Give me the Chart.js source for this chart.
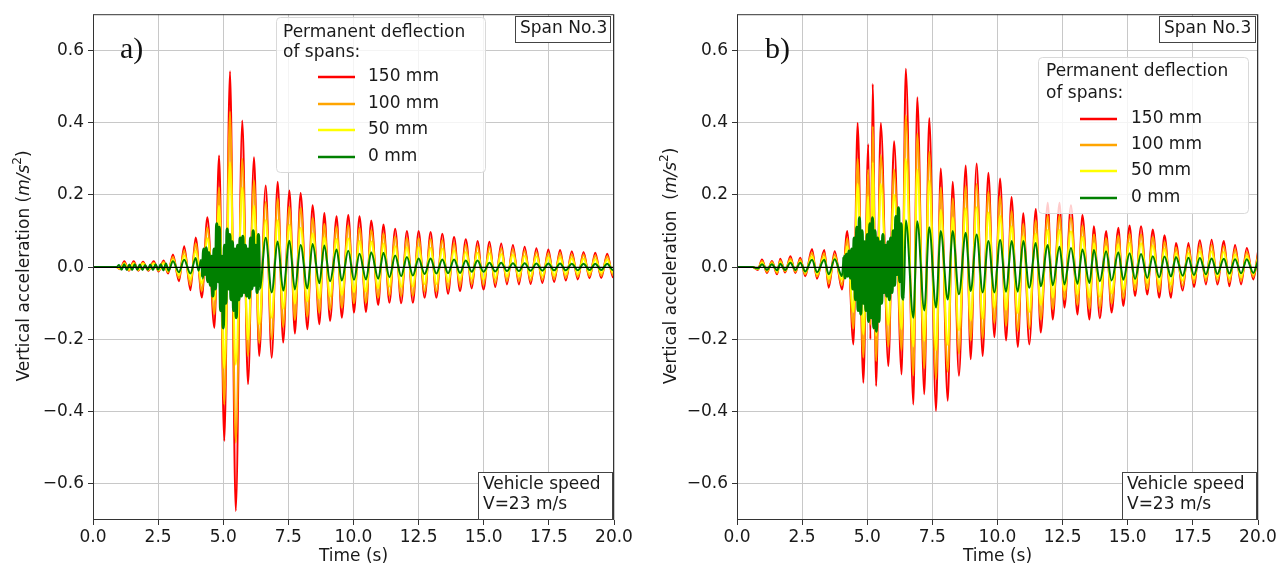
<!DOCTYPE html>
<html>
<head>
<meta charset="utf-8">
<script src="https://cdn.jsdelivr.net/npm/chart.js@4.4.1/dist/chart.umd.min.js"></script>
<style>
html, body { margin: 0; padding: 0; background: #fff; overflow: hidden; }
#wrapA { position: absolute; left: 0; top: 0; width: 640px; height: 569px; }
#wrapB { position: absolute; left: 640px; top: 0; width: 647px; height: 569px; }
</style>
</head>
<body>
<div id="wrapA"><canvas id="chartA" width="640" height="569"></canvas></div>
<div id="wrapB"><canvas id="chartB" width="647" height="569"></canvas></div>
<script>
var seriesNames = ['150 mm', '100 mm', '50 mm', '0 mm'];
var seriesColors = ['#ff0000', '#ffa500', '#ffff00', '#008000'];
var xTicks = [0, 2.5, 5, 7.5, 10, 12.5, 15, 17.5, 20];
var yTicks = [-0.6, -0.4, -0.2, 0, 0.2, 0.4, 0.6];

// ---- panel a) : times of the read peaks / troughs (s) ----
var timesA = [0, 0.9, 1.05, 1.2, 1.38, 1.56, 1.74, 1.92, 2.12, 2.33,
  2.52, 2.71, 2.88, 3.07, 3.30, 3.50, 3.74, 3.94, 4.18, 4.39,
  4.66, 4.84, 5.04, 5.26, 5.48, 5.73, 5.95, 6.18, 6.38, 6.63,
  6.86, 7.09, 7.30, 7.54, 7.75, 7.97, 8.23, 8.43, 8.69, 8.88,
  9.10, 9.35, 9.55, 9.80, 10.02, 10.23, 10.48, 10.68, 10.95, 11.15,
  11.38, 11.60, 11.83, 12.05, 12.28, 12.50, 12.73, 12.96, 13.18, 13.41,
  13.63, 13.86, 14.09, 14.31, 14.54, 14.76, 14.99, 15.22, 15.44, 15.67,
  15.89, 16.12, 16.35, 16.57, 16.80, 17.02, 17.25, 17.48, 17.70, 17.93,
  18.15, 18.38, 18.61, 18.83, 19.06, 19.28, 19.51, 19.74, 19.96, 20.0];

var red150A = [0, 0, -0.006, 0.016, -0.01, 0.016, -0.01, 0.015, -0.01, 0.016,
  -0.012, 0.018, -0.018, 0.035, -0.039, 0.058, -0.064, 0.082, -0.084, 0.138,
  -0.168, 0.309, -0.481, 0.542, -0.675, 0.406, -0.324, 0.304, -0.246, 0.226,
  -0.251, 0.236, -0.209, 0.212, -0.184, 0.205, -0.172, 0.171, -0.158, 0.150,
  -0.149, 0.141, -0.140, 0.144, -0.126, 0.141, -0.124, 0.129, -0.105, 0.118,
  -0.099, 0.106, -0.100, 0.100, -0.099, 0.100, -0.085, 0.097, -0.085, 0.092,
  -0.074, 0.083, -0.066, 0.077, -0.059, 0.072, -0.062, 0.070, -0.055, 0.065,
  -0.048, 0.061, -0.048, 0.056, -0.047, 0.052, -0.044, 0.049, -0.041, 0.047,
  -0.037, 0.044, -0.034, 0.042, -0.031, 0.040, -0.030, 0.037, -0.028, -0.026];

var orange100A = [0, 0, -0.005, 0.012, -0.008, 0.012, -0.008, 0.012, -0.008, 0.012,
  -0.01, 0.014, -0.014, 0.028, -0.031, 0.046, -0.05, 0.065, -0.066, 0.11,
  -0.13, 0.22, -0.38, 0.43, -0.486, 0.30, -0.246, 0.24, -0.21, 0.18,
  -0.20, 0.19, -0.166, 0.168, -0.146, 0.164, -0.137, 0.136, -0.126, 0.12,
  -0.119, 0.113, -0.112, 0.115, -0.1, 0.109, -0.099, 0.103, -0.084, 0.094,
  -0.079, 0.085, -0.08, 0.08, -0.079, 0.08, -0.068, 0.078, -0.068, 0.074,
  -0.059, 0.066, -0.053, 0.062, -0.047, 0.058, -0.05, 0.056, -0.044, 0.052,
  -0.038, 0.049, -0.038, 0.045, -0.038, 0.042, -0.035, 0.039, -0.033, 0.038,
  -0.03, 0.035, -0.027, 0.034, -0.025, 0.032, -0.024, 0.03, -0.022, -0.021];

var yellow50A = [0, 0, -0.004, 0.009, -0.007, 0.009, -0.007, 0.009, -0.007, 0.009,
  -0.008, 0.01, -0.01, 0.02, -0.022, 0.032, -0.035, 0.045, -0.046, 0.08,
  -0.09, 0.17, -0.28, 0.29, -0.27, 0.22, -0.2, 0.17, -0.158, 0.13,
  -0.14, 0.13, -0.115, 0.117, -0.101, 0.109, -0.095, 0.094, -0.087, 0.083,
  -0.082, 0.078, -0.077, 0.079, -0.069, 0.072, -0.068, 0.071, -0.058, 0.065,
  -0.054, 0.058, -0.055, 0.055, -0.054, 0.055, -0.047, 0.053, -0.047, 0.051,
  -0.041, 0.046, -0.036, 0.042, -0.032, 0.04, -0.034, 0.038, -0.03, 0.036,
  -0.026, 0.034, -0.026, 0.031, -0.026, 0.029, -0.024, 0.027, -0.023, 0.026,
  -0.02, 0.024, -0.019, 0.023, -0.017, 0.022, -0.016, 0.02, -0.015, -0.014];

// green (0 mm) has its own sampling: noisy burst between 4.2 and 6.4 s
var greenTimesA = [0, 0.9, 1.0, 1.1, 1.2, 1.3, 1.4, 1.5, 1.6, 1.7,
  1.8, 1.9, 2.0, 2.1, 2.2, 2.3, 2.4, 2.5, 2.6, 2.7,
  2.8, 2.9, 3.07, 3.30, 3.50, 3.74, 3.94, 4.05, 4.15,
  4.20, 4.25, 4.30, 4.35, 4.40, 4.45, 4.50, 4.55, 4.60, 4.65,
  4.70, 4.75, 4.80, 4.85, 4.90, 4.95, 5.00, 5.05, 5.10, 5.15,
  5.20, 5.25, 5.30, 5.35, 5.40, 5.45, 5.50, 5.55, 5.60, 5.65,
  5.70, 5.75, 5.80, 5.85, 5.90, 5.95, 6.00, 6.05, 6.10, 6.15,
  6.20, 6.25, 6.30, 6.35, 6.40,
  6.63, 6.86, 7.09, 7.30, 7.54, 7.75, 7.97, 8.23, 8.43, 8.69,
  8.88, 9.10, 9.35, 9.55, 9.80, 10.02, 10.23, 10.48, 10.68, 10.95,
  11.15, 11.38, 11.60, 11.83, 12.05, 12.28, 12.50, 12.73, 12.96, 13.18,
  13.41, 13.63, 13.86, 14.09, 14.31, 14.54, 14.76, 14.99, 15.22, 15.44,
  15.67, 15.89, 16.12, 16.35, 16.57, 16.80, 17.02, 17.25, 17.48, 17.70,
  17.93, 18.15, 18.38, 18.61, 18.83, 19.06, 19.28, 19.51, 19.74, 19.96,
  20.0];

var green0A = [0, 0, 0.006, -0.007, 0.008, -0.008, 0.007, -0.008, 0.008, -0.007,
  0.007, -0.008, 0.006, -0.007, 0.007, -0.008, 0.008, -0.007, 0.008, -0.009,
  0.01, -0.01, 0.016, -0.014, 0.02, -0.018, 0.025, -0.01, 0.02,
  -0.03, 0.05, -0.02, 0.053, -0.04, 0.04, -0.05, 0.03, -0.08, 0.05,
  -0.06, 0.12, -0.04, 0.11, -0.12, 0.03, -0.168, 0.06, -0.1, 0.105,
  -0.06, 0.09, -0.09, 0.07, -0.12, 0.05, -0.14, 0.06, -0.09, 0.08,
  -0.08, 0.085, -0.07, 0.06, -0.08, 0.05, -0.085, 0.08, -0.06, 0.1,
  -0.05, 0.06, -0.07, 0.09, -0.06,
  0.081, -0.07, 0.071, -0.065, 0.073, -0.062, 0.061, -0.059, 0.064, -0.045,
  0.06, -0.039, 0.049, -0.037, 0.045, -0.035, 0.037, -0.034, 0.041, -0.032,
  0.04, -0.028, 0.032, -0.025, 0.028, -0.023, 0.024, -0.019, 0.024, -0.018,
  0.021, -0.017, 0.021, -0.016, 0.018, -0.013, 0.018, -0.013, 0.012, -0.012,
  0.012, -0.011, 0.011, -0.011, 0.011, -0.01, 0.01, -0.01, 0.01, -0.009,
  0.01, -0.009, 0.009, -0.009, 0.009, -0.008, 0.009, -0.008, 0.009, -0.008,
  -0.007];

// ---- panel b) ----
var timesB = [0, 0.6, 0.8, 0.96, 1.15, 1.34, 1.54, 1.66, 1.85, 2.05,
  2.24, 2.43, 2.62, 2.88, 3.07, 3.35, 3.52, 3.75, 4.03, 4.23,
  4.47, 4.63, 4.85, 5.04, 5.12, 5.21, 5.34, 5.52, 5.81, 6.03,
  6.32, 6.48, 6.77, 6.92, 7.19, 7.38, 7.64, 7.82, 8.09, 8.28,
  8.52, 8.78, 8.97, 9.20, 9.43, 9.65, 9.88, 10.10, 10.33, 10.54,
  10.78, 10.99, 11.22, 11.47, 11.66, 11.93, 12.12, 12.38, 12.57, 12.82,
  13.07, 13.26, 13.53, 13.70, 13.93, 14.17, 14.38, 14.64, 14.83, 15.07,
  15.28, 15.51, 15.75, 15.96, 16.21, 16.41, 16.66, 16.85, 17.11, 17.33,
  17.54, 17.77, 18.00, 18.22, 18.44, 18.69, 18.90, 19.12, 19.35, 19.57,
  19.82, 20.0];

var red150B = [0, 0, -0.008, 0.021, -0.016, 0.017, -0.02, 0.023, -0.015, 0.03,
  -0.016, 0.026, -0.025, 0.05, -0.032, 0.047, -0.057, 0.044, -0.062, 0.10,
  -0.214, 0.399, -0.32, 0.34, -0.2, 0.507, -0.329, 0.399, -0.274, 0.348,
  -0.297, 0.549, -0.38, 0.47, -0.352, 0.413, -0.398, 0.273, -0.37, 0.236,
  -0.301, 0.281, -0.255, 0.287, -0.246, 0.261, -0.194, 0.245, -0.203, 0.194,
  -0.221, 0.149, -0.214, 0.161, -0.181, 0.178, -0.145, 0.178, -0.112, 0.171,
  -0.131, 0.144, -0.145, 0.113, -0.142, 0.10, -0.126, 0.109, -0.108, 0.115,
  -0.080, 0.113, -0.076, 0.104, -0.085, 0.088, -0.085, 0.067, -0.065, 0.067,
  -0.055, 0.074, -0.048, 0.076, -0.048, 0.072, -0.053, 0.061, -0.048, 0.053,
  -0.034, 0.042];

var orange100B = [0, 0, -0.006, 0.017, -0.013, 0.014, -0.016, 0.018, -0.012, 0.024,
  -0.013, 0.021, -0.02, 0.04, -0.026, 0.038, -0.046, 0.035, -0.05, 0.08,
  -0.17, 0.30, -0.25, 0.27, -0.16, 0.39, -0.26, 0.31, -0.22, 0.27,
  -0.23, 0.42, -0.30, 0.37, -0.28, 0.32, -0.31, 0.22, -0.29, 0.19,
  -0.24, 0.225, -0.204, 0.23, -0.197, 0.209, -0.155, 0.196, -0.162, 0.155,
  -0.177, 0.119, -0.171, 0.129, -0.145, 0.142, -0.116, 0.142, -0.09, 0.137,
  -0.105, 0.115, -0.116, 0.09, -0.114, 0.08, -0.101, 0.087, -0.086, 0.092,
  -0.064, 0.09, -0.061, 0.083, -0.068, 0.07, -0.068, 0.054, -0.052, 0.054,
  -0.044, 0.059, -0.038, 0.061, -0.038, 0.058, -0.042, 0.049, -0.038, 0.042,
  -0.027, 0.034];

var yellow50B = [0, 0, -0.005, 0.012, -0.009, 0.01, -0.012, 0.013, -0.009, 0.017,
  -0.009, 0.015, -0.015, 0.029, -0.019, 0.027, -0.033, 0.026, -0.036, 0.058,
  -0.124, 0.23, -0.186, 0.197, -0.116, 0.29, -0.19, 0.23, -0.16, 0.2,
  -0.172, 0.3, -0.22, 0.27, -0.204, 0.24, -0.23, 0.158, -0.215, 0.137,
  -0.175, 0.163, -0.148, 0.166, -0.143, 0.151, -0.113, 0.142, -0.118, 0.113,
  -0.128, 0.086, -0.124, 0.093, -0.105, 0.103, -0.084, 0.103, -0.065, 0.099,
  -0.076, 0.084, -0.084, 0.066, -0.082, 0.058, -0.073, 0.063, -0.063, 0.067,
  -0.046, 0.066, -0.044, 0.06, -0.049, 0.051, -0.049, 0.039, -0.038, 0.039,
  -0.032, 0.043, -0.028, 0.044, -0.028, 0.042, -0.031, 0.035, -0.028, 0.031,
  -0.02, 0.024];

var greenTimesB = [0, 0.6, 0.8, 0.96, 1.15, 1.34, 1.54, 1.66, 1.85, 2.05,
  2.24, 2.43, 2.62, 2.88, 3.07, 3.35, 3.52, 3.75, 4.03,
  4.10, 4.15, 4.20, 4.25, 4.30, 4.35, 4.40, 4.45, 4.50, 4.55,
  4.60, 4.65, 4.70, 4.75, 4.80, 4.85, 4.90, 4.95, 5.00, 5.05,
  5.10, 5.15, 5.20, 5.25, 5.30, 5.35, 5.40, 5.45, 5.50, 5.55,
  5.60, 5.65, 5.70, 5.75, 5.80, 5.85, 5.90, 5.95, 6.00, 6.05,
  6.10, 6.15, 6.20, 6.25, 6.30, 6.35, 6.40,
  6.48, 6.77, 6.92, 7.19, 7.38, 7.64, 7.82, 8.09, 8.28, 8.52,
  8.78, 8.97, 9.20, 9.43, 9.65, 9.88, 10.10, 10.33, 10.54, 10.78,
  10.99, 11.22, 11.47, 11.66, 11.93, 12.12, 12.38, 12.57, 12.82, 13.07,
  13.26, 13.53, 13.70, 13.93, 14.17, 14.38, 14.64, 14.83, 15.07, 15.28,
  15.51, 15.75, 15.96, 16.21, 16.41, 16.66, 16.85, 17.11, 17.33, 17.54,
  17.77, 18.00, 18.22, 18.44, 18.69, 18.90, 19.12, 19.35, 19.57, 19.82,
  20.0];

var green0B = [0, 0, -0.004, 0.008, -0.008, 0.008, -0.009, 0.009, -0.008, 0.012,
  -0.008, 0.012, -0.012, 0.02, -0.014, 0.02, -0.02, 0.022, -0.025,
  0.03, -0.03, 0.035, -0.025, 0.044, -0.03, 0.05, -0.06, 0.08, -0.09,
  0.11, -0.12, 0.136, -0.13, 0.1, -0.1, 0.07, -0.12, 0.09, -0.15,
  0.12, -0.14, 0.136, -0.168, 0.1, -0.177, 0.08, -0.15, 0.07, -0.1,
  0.09, -0.07, 0.06, -0.08, 0.07, -0.09, 0.08, -0.07, 0.1, -0.05,
  0.14, -0.02, 0.164, -0.04, 0.12, -0.08, -0.089,
  0.13, -0.14, 0.127, -0.12, 0.11, -0.112, 0.10, -0.09, 0.10, -0.075,
  0.095, -0.066, 0.09, -0.07, 0.072, -0.07, 0.075, -0.068, 0.072, -0.068,
  0.072, -0.057, 0.067, -0.053, 0.061, -0.05, 0.056, -0.048, 0.053, -0.046,
  0.049, -0.044, 0.047, -0.039, 0.044, -0.037, 0.041, -0.035, 0.038, -0.033,
  0.036, -0.03, 0.03, -0.028, 0.029, -0.026, 0.028, -0.024, 0.026, -0.022,
  0.025, -0.02, 0.024, -0.019, 0.023, -0.018, 0.022, -0.017, 0.022, -0.016,
  0.018];

var FONT = '17px "DejaVu Sans"';
var TEXT = '#1a1a1a';
Chart.defaults.font.family = 'DejaVu Sans';
Chart.defaults.color = TEXT;

function pts(ts, vs) {
  if (ts.length != vs.length) console.log('length mismatch', ts.length, vs.length);
  var out = [];
  for (var i = 0; i < ts.length; i++) {
    out.push({x: ts[i], y: vs[i]});
  }
  return out;
}

function fmt(v) {
  var s = Math.abs(v).toFixed(1);
  return v < -1e-9 ? '\u2212' + s : s;
}

function boxText(ctx, b) {
  ctx.fillStyle = '#fff';
  ctx.fillRect(b.x, b.y, b.w, b.h);
  ctx.strokeStyle = '#444';
  ctx.lineWidth = 1;
  ctx.strokeRect(b.x + 0.5, b.y + 0.5, b.w, b.h);
  ctx.fillStyle = TEXT;
  ctx.font = FONT;
  ctx.textAlign = 'left';
  ctx.textBaseline = 'middle';
  for (var i = 0; i < b.lines.length; i++) {
    ctx.fillText(b.lines[i], b.tx, b.ty[i]);
  }
}

function drawLegend(ctx, L) {
  ctx.beginPath();
  ctx.roundRect(L.x + 0.5, L.y + 0.5, L.w, L.h, 4);
  ctx.fillStyle = 'rgba(255,255,255,0.8)';
  ctx.fill();
  ctx.strokeStyle = '#d9d9d9';
  ctx.lineWidth = 1;
  ctx.stroke();
  ctx.font = FONT;
  ctx.fillStyle = TEXT;
  ctx.textAlign = 'left';
  ctx.textBaseline = 'middle';
  ctx.fillText('Permanent deflection', L.tx, L.ty[0]);
  ctx.fillText('of spans:', L.tx, L.ty[1]);
  for (var i = 0; i < seriesNames.length; i++) {
    ctx.strokeStyle = seriesColors[i];
    ctx.lineWidth = 2.5;
    ctx.beginPath();
    ctx.moveTo(L.lx0, L.ey[i]);
    ctx.lineTo(L.lx1, L.ey[i]);
    ctx.stroke();
    ctx.fillStyle = TEXT;
    ctx.fillText(seriesNames[i], L.ex, L.ey[i]);
  }
}

function drawYTitle(ctx, cx, cy, gap) {
  var parts = [
    {t: 'Vertical acceleration' + gap + '(', f: FONT, dy: 0},
    {t: 'm/s', f: 'italic 17px "DejaVu Sans"', dy: 0},
    {t: '2', f: '12px "DejaVu Sans"', dy: -7},
    {t: ')', f: FONT, dy: 0}
  ];
  var total = 0;
  for (var i = 0; i < parts.length; i++) {
    ctx.font = parts[i].f;
    parts[i].w = ctx.measureText(parts[i].t).width;
    total += parts[i].w;
  }
  ctx.save();
  ctx.translate(cx, cy);
  ctx.rotate(-Math.PI / 2);
  ctx.fillStyle = TEXT;
  ctx.textAlign = 'left';
  ctx.textBaseline = 'middle';
  var x = -total / 2;
  for (var j = 0; j < parts.length; j++) {
    ctx.font = parts[j].f;
    ctx.fillText(parts[j].t, x, parts[j].dy);
    x += parts[j].w;
  }
  ctx.restore();
}

function makeChart(id, p) {
  var datasets = [];
  for (var i = 0; i < 4; i++) {
    var ds = {
      label: seriesNames[i],
      data: pts(p.times[i], p.values[i]),
      borderColor: seriesColors[i],
      borderWidth: 2,
      pointRadius: 0,
      fill: false,
      cubicInterpolationMode: 'monotone',
      order: 4 - i
    };
    if (i == 3) {
      // the noisy burst of the 0 mm trace reads as a filled band
      ds.segment = {
        borderWidth: function(c) {
          return (c.p0.parsed.x >= p.burst[0] && c.p1.parsed.x <= p.burst[1]) ? 3.2 : 2;
        }
      };
    }
    datasets.push(ds);
  }

  var decor = {
    id: 'decor',
    afterDatasetsDraw: function(chart) {
      var ctx = chart.ctx, a = chart.chartArea;
      var y0 = Math.round(chart.scales.y.getPixelForValue(0));
      ctx.save();
      ctx.strokeStyle = '#000';
      ctx.lineWidth = 1.3;
      ctx.beginPath();
      ctx.moveTo(a.left, y0 + 0.3);
      ctx.lineTo(a.right, y0 + 0.3);
      ctx.stroke();
      ctx.strokeStyle = '#333';
      ctx.lineWidth = 1;
      ctx.strokeRect(a.left + 0.5, a.top + 0.5, a.right - a.left - 1, a.bottom - a.top - 1);
      ctx.restore();
    },
    afterDraw: function(chart) {
      var ctx = chart.ctx;
      ctx.save();
      drawLegend(ctx, p.legend);
      boxText(ctx, p.span);
      boxText(ctx, p.speed);
      ctx.font = '30px "Liberation Serif"';
      ctx.fillStyle = '#111';
      ctx.textAlign = 'left';
      ctx.textBaseline = 'middle';
      ctx.fillText(p.tag, p.tagX, 50);
      drawYTitle(ctx, p.yTitleX, 266, p.gap);
      ctx.restore();
    }
  };

  return new Chart(document.getElementById(id), {
    type: 'line',
    data: {datasets: datasets},
    options: {
      responsive: false,
      animation: false,
      devicePixelRatio: 1,
      layout: {padding: {left: 0, top: 12, right: p.padRight, bottom: 0}},
      plugins: {legend: {display: false}, tooltip: {enabled: false}},
      scales: {
        x: {
          type: 'linear',
          min: 0,
          max: 20,
          afterFit: function(s) { s.height = 49; },
          afterBuildTicks: function(s) {
            s.ticks = xTicks.map(function(v) { return {value: v}; });
          },
          ticks: {
            font: {size: 17},
            color: TEXT,
            padding: 2,
            maxRotation: 0,
            autoSkip: false,
            callback: function(v) { return fmt(v); }
          },
          grid: {color: '#c8c8c8', lineWidth: 1, tickColor: '#333', tickLength: 5},
          border: {display: false},
          title: {display: true, text: 'Time (s)', font: {size: 17}, color: TEXT, padding: {top: 0, bottom: 2}}
        },
        y: {
          type: 'linear',
          min: -0.7,
          max: 0.7,
          afterFit: function(s) { s.width = p.yWidth; },
          afterBuildTicks: function(s) {
            s.ticks = yTicks.map(function(v) { return {value: v}; });
          },
          ticks: {
            font: {size: 17},
            color: TEXT,
            padding: 4,
            autoSkip: false,
            callback: function(v) { return fmt(v); }
          },
          grid: {color: '#c8c8c8', lineWidth: 1, tickColor: '#333', tickLength: 5},
          border: {display: false}
        }
      }
    },
    plugins: [decor]
  });
}

makeChart('chartA', {
  times: [timesA, timesA, timesA, greenTimesA],
  values: [red150A, orange100A, yellow50A, green0A],
  burst: [4.2, 6.4],
  padRight: 26,
  yWidth: 93,
  tag: 'a)',
  tagX: 120,
  yTitleX: 25,
  gap: ' ',
  legend: {x: 276, y: 17, w: 209, h: 155, tx: 283, ty: [33, 53], lx0: 318, lx1: 355, ex: 368, ey: [77, 104, 130, 157]},
  span: {x: 515, y: 16, w: 95, h: 26, tx: 520, ty: [29], lines: ['Span No.3']},
  speed: {x: 478, y: 472, w: 134, h: 47, tx: 483, ty: [485, 505], lines: ['Vehicle speed', 'V=23 m/s']}
});

makeChart('chartB', {
  times: [timesB, timesB, timesB, greenTimesB],
  values: [red150B, orange100B, yellow50B, green0B],
  burst: [4.1, 6.4],
  padRight: 29,
  yWidth: 97,
  tag: 'b)',
  tagX: 125,
  yTitleX: 32,
  gap: '  ',
  legend: {x: 398, y: 57, w: 210, h: 156, tx: 406, ty: [72, 94], lx0: 440, lx1: 477, ex: 491, ey: [119, 145, 171, 198]},
  span: {x: 519, y: 16, w: 96, h: 26, tx: 524, ty: [29], lines: ['Span No.3']},
  speed: {x: 482, y: 472, w: 134, h: 47, tx: 487, ty: [485, 505], lines: ['Vehicle speed', 'V=23 m/s']}
});
</script>
</body>
</html>
